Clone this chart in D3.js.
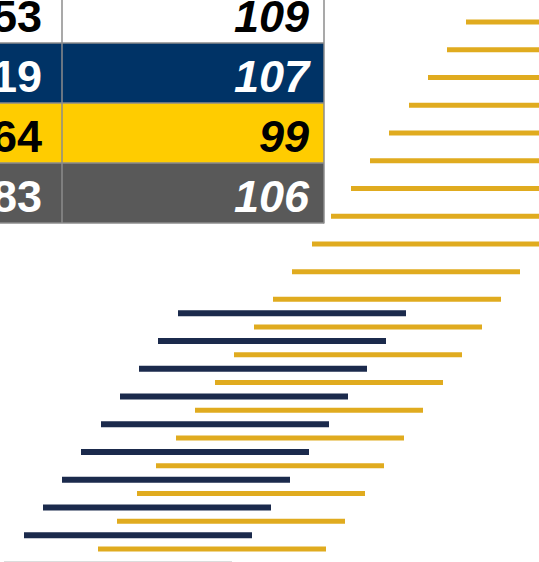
<!DOCTYPE html>
<html>
<head>
<meta charset="utf-8">
<style>
  body { margin: 0; background: #fff; }
  svg { display: block; font-family: "Liberation Sans", Arial, sans-serif; }
</style>
<script src="https://cdn.jsdelivr.net/npm/d3@7/dist/d3.min.js"></script>
</head>
<body>
<script>
// table values (left column is cut off by the frame)
var leftValues  = [53, 19, 64, 83];
var rightValues = [109, 107, 99, 106];

// stripe pattern: start positions, common length
var goldStarts = [466, 447, 428, 409, 389, 370, 351, 331, 312, 292,
                  273, 254, 234, 215, 195, 176, 156, 137, 117, 98];
var goldRows   = [0, 2, 4, 6, 8, 10, 12, 14, 16, 18,
                  20, 22, 24, 26, 28, 30, 32, 34, 36, 38];
var navyStarts = [178, 158, 139, 120, 101, 81, 62, 43, 24];
var navyRows   = [21, 23, 25, 27, 29, 31, 33, 35, 37];
var stripeLength = 228;

var W = 539, H = 562;
var rowFill = ["#ffffff", "#003366", "#ffcc00", "#595959"];
var rowText = ["#000000", "#ffffff", "#000000", "#ffffff"];

var svg = d3.select("body").append("svg")
    .attr("width", W)
    .attr("height", H);

// ---- table
var rowY = d3.scaleBand()
    .domain(d3.range(leftValues.length))
    .range([-17, 223]);
var colX = {left: -60, mid: 62, right: 324};

var rows = svg.append("g").selectAll("g")
    .data(leftValues.map((v, i) => ({left: v, right: rightValues[i], i: i})))
  .enter().append("g")
    .attr("transform", d => `translate(0,${rowY(d.i)})`);

rows.append("rect")
    .attr("x", colX.left)
    .attr("width", colX.right - colX.left)
    .attr("height", rowY.bandwidth())
    .attr("fill", d => rowFill[d.i]);

rows.append("text")
    .attr("x", colX.mid - 20)
    .attr("y", rowY.bandwidth() - 11)
    .attr("text-anchor", "end")
    .attr("font-size", 45)
    .attr("font-weight", "bold")
    .attr("fill", d => rowText[d.i])
    .text(d => d.left);

rows.append("text")
    .attr("x", colX.right - 15)
    .attr("y", rowY.bandwidth() - 11)
    .attr("text-anchor", "end")
    .attr("font-size", 45)
    .attr("font-weight", "bold")
    .attr("font-style", "italic")
    .attr("fill", d => rowText[d.i])
    .text(d => d.right);

// grid lines of the table
var grid = svg.append("g")
    .attr("stroke", "#8c8c8c")
    .attr("stroke-width", 1.5);
grid.selectAll(".h")
    .data(d3.range(leftValues.length))
  .enter().append("line")
    .attr("x1", colX.left)
    .attr("x2", colX.right)
    .attr("y1", d => rowY(d) + rowY.bandwidth())
    .attr("y2", d => rowY(d) + rowY.bandwidth());
grid.append("line")
    .attr("x1", colX.mid).attr("x2", colX.mid)
    .attr("y1", -20).attr("y2", 223);
grid.append("line")
    .attr("x1", colX.right).attr("x2", colX.right)
    .attr("y1", -20).attr("y2", 223.5);

// ---- stripes
var x = d3.scaleLinear().domain([0, W]).range([0, W]);
var y = d3.scaleLinear().domain([0, 38]).range([22, 549]);

svg.append("g").selectAll("line")
    .data(goldStarts.map((s, i) => ({start: s, row: goldRows[i]})))
  .enter().append("line")
    .attr("x1", d => x(d.start))
    .attr("x2", d => x(d.start + stripeLength))
    .attr("y1", d => y(d.row))
    .attr("y2", d => y(d.row))
    .attr("stroke", "#e0ab1f")
    .attr("stroke-width", 5);

svg.append("g").selectAll("line")
    .data(navyStarts.map((s, i) => ({start: s, row: navyRows[i]})))
  .enter().append("line")
    .attr("x1", d => x(d.start))
    .attr("x2", d => x(d.start + stripeLength))
    .attr("y1", d => y(d.row))
    .attr("y2", d => y(d.row))
    .attr("stroke", "#1b2a4c")
    .attr("stroke-width", 6);

// faint rule along the bottom edge
svg.append("line")
    .attr("x1", 4).attr("x2", 232)
    .attr("y1", 561.5).attr("y2", 561.5)
    .attr("stroke", "#dcdcdc")
    .attr("stroke-width", 1);
</script>
</body>
</html>
